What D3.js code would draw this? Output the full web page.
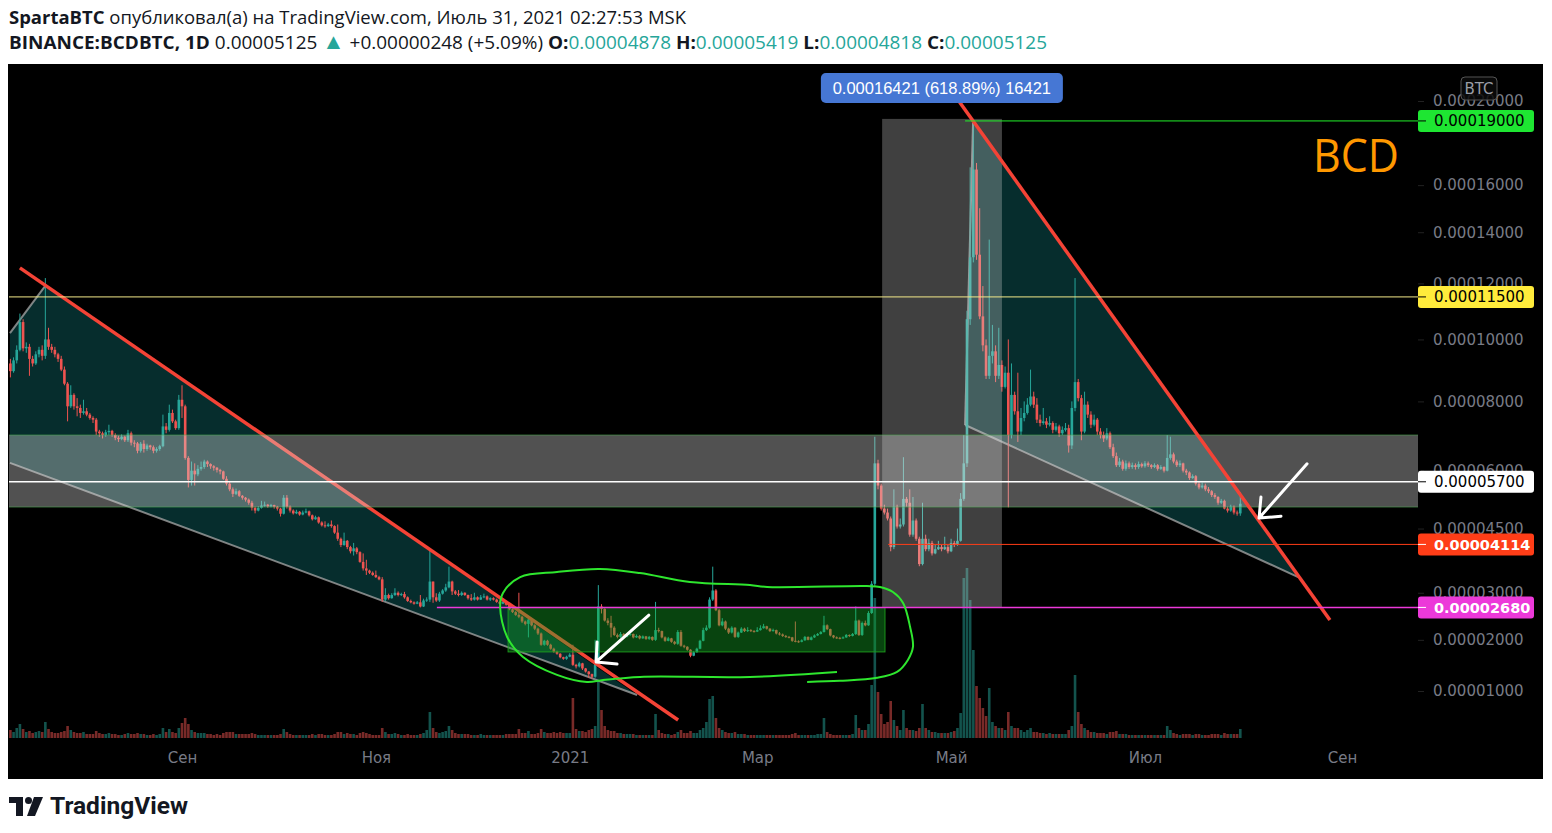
<!DOCTYPE html>
<html><head><meta charset="utf-8">
<script src="https://cdn.jsdelivr.net/npm/d3@7"></script>
<style>body{margin:0;background:#fff;overflow:hidden}</style>
</head><body><svg id="c" width="1552" height="833"></svg>
<script>
// ---------------- DATA (prices in satoshi = 1e-8 BTC) ----------------
const startDay = "2020-07-09";
const firstOpen = 9200;
const lastOpen = 4878;
const closes = [
8950,9300,9650,10600,9700,9750,9350,9200,9500,9650,
9450,10000,9750,9650,9500,9350,9000,8550,7850,8200,
7850,7800,7650,7700,7600,7500,7450,7100,7050,7000,
7080,7120,7000,6920,6880,6950,6850,7050,6780,6760,
6550,6750,6600,6700,6650,6550,6600,6680,7250,7150,
7650,7400,7200,8050,7850,6350,5750,6000,5900,6050,
6100,6250,6180,6120,6080,6020,5980,5780,5650,5500,
5380,5450,5330,5280,5230,5150,5020,4950,5020,5080,
5100,5060,5090,5050,5000,4870,5280,5050,4950,4880,
4920,4850,4900,4930,4830,4730,4780,4650,4580,4560,
4600,4560,4400,4250,4100,4200,4050,3950,4020,3930,
3700,3550,3500,3450,3400,3350,3300,2850,2950,2880,
2950,3000,2950,2970,2900,2820,2790,2760,2790,2700,
2830,2850,3250,2900,2830,2980,3050,3120,3250,3030,
2980,2950,3000,2950,2880,2850,2900,2850,2900,2920,
2850,2880,2850,2800,2760,2800,2740,2640,2580,2520,
2480,2380,2330,2420,2300,2230,2130,1900,1980,1900,
1820,1760,1720,1650,1620,1660,1700,1500,1470,1530,
1430,1370,1320,1270,1600,2700,2650,2400,2350,2250,
2100,2060,2120,2060,2100,2120,2050,2080,2030,2070,
2020,2060,2000,2200,2180,2050,1980,2030,1960,1920,
2160,1880,1860,1800,1680,1750,1820,1980,2200,2250,
2850,3050,2620,2300,2380,2230,2150,2250,2060,2150,
2230,2180,2200,2180,2170,2200,2240,2280,2230,2180,
2200,2130,2110,2080,2060,2050,1980,1970,1960,1990,
2060,2000,2050,2090,2120,2160,2300,2220,2090,2050,
2040,2030,2050,2100,2080,2120,2400,2100,2350,2300,
2560,3200,6200,5600,5000,4900,4750,4050,5050,4550,
4600,5250,5150,4350,4700,4250,3650,4250,4000,4150,
3900,4000,4050,4000,4050,3950,4150,4100,4200,5250,
6200,10700,13000,16700,13100,10800,9800,8800,9450,9600,
8800,9150,8450,8900,7000,8200,7700,7100,7500,7650,
7900,8150,7900,7450,7350,7400,7300,7350,7150,7250,
7050,7150,7200,6700,7800,8600,8100,7100,7900,7600,
7300,7450,7100,7000,6900,7050,6650,6400,6150,6250,
6050,6200,6100,6150,6100,6180,6120,6200,6150,6100,
6150,6050,6100,6000,6350,6450,6250,6150,6200,6000,
5950,5800,5850,5650,5550,5600,5500,5450,5350,5300,
5150,5200,5000,4950,5050,4900,4877,5125];
const highs = [
9350,9400,9800,10900,10700,9900,9850,9450,9600,9750,
9800,12200,10400,9850,9750,9550,9450,9100,8600,8500,
8250,8100,7900,8050,7800,7650,7550,7500,7150,7100,
7150,7300,7150,7050,6980,7020,6980,7150,7100,6850,
6800,6800,6850,6750,6720,6700,6650,6720,7600,7350,
7900,7750,7450,8200,8500,7900,6400,6250,6200,6150,
6250,6300,6280,6200,6150,6100,6050,6000,5850,5700,
5550,5520,5480,5350,5300,5260,5200,5050,5060,5200,
5180,5120,5120,5100,5070,5020,5350,5350,5080,4980,
4970,4940,4950,5000,4950,4850,4820,4800,4680,4680,
4640,4700,4580,4600,4280,4400,4220,4080,4150,4050,
3950,3900,3750,3520,3480,3500,3380,3350,3100,2980,
2990,3100,3030,3000,3020,2920,2850,2810,2820,2950,
2870,2900,3980,3250,2990,3020,3080,3200,3590,3270,
3060,3060,3030,3010,2960,2970,3000,2920,2950,2980,
2940,2900,2900,2870,2830,2830,2820,2760,2660,2600,
3000,2500,2400,2450,2430,2320,2250,2150,2000,2000,
1920,1840,1780,1730,1660,1680,1730,1900,1520,1560,
1540,1440,1380,1330,2000,3170,2750,2660,2450,2500,
2280,2130,2160,2140,2130,2150,2130,2110,2100,2090,
2080,2080,2070,2800,2250,2190,2070,2060,2040,1980,
2200,2200,1900,1870,1810,1770,1840,2000,2250,2300,
2900,3590,3080,2650,2450,2400,2250,2280,2260,2170,
2260,2250,2260,2220,2200,2260,2300,2330,2290,2240,
2230,2210,2160,2130,2100,2080,2060,2380,1990,2010,
2080,2070,2070,2110,2140,2180,2500,2320,2230,2100,
2070,2060,2070,2120,2110,2140,2700,2420,2380,2400,
2600,3260,6950,6300,5650,5100,5000,4800,5500,5100,
4750,6370,5300,5500,5300,4750,4300,5150,4350,4250,
4200,4100,4200,4100,4300,4100,4250,4200,4500,5400,
7000,11000,16800,19000,17000,15000,11900,10000,13700,10500,
9800,10400,9300,9100,10000,9200,8300,8900,7800,8000,
8100,9000,8300,8100,7600,7800,7500,7550,7400,7350,
7300,7250,7350,7300,8000,12200,8700,8200,8300,8000,
7700,7600,7500,7200,7100,7200,7100,6750,6500,6350,
6300,6280,6250,6220,6200,6250,6220,6260,6250,6180,
6200,6180,6150,6120,7000,6950,6500,6300,6280,6220,
6050,5980,5900,5880,5700,5680,5650,5560,5480,5400,
5320,5250,5230,5050,5100,5080,4950,5419];
const lows = [
8750,8900,9200,9600,9600,9550,8800,9100,9150,9400,
9300,9350,9650,9550,9400,9250,8950,8500,7400,7800,
7750,7550,7500,7600,7550,7450,7350,7000,6950,6900,
6950,7000,6950,6850,6800,6850,6800,6800,6700,6650,
6480,6500,6500,6550,6580,6480,6500,6550,6650,7050,
7100,7350,7150,7150,7500,6300,5550,5600,5600,5850,
6000,6050,6100,6050,6000,5950,5900,5750,5600,5450,
5300,5350,5300,5230,5180,5100,4950,4880,4930,5000,
5050,5020,5030,5000,4950,4800,4850,5000,4900,4850,
4860,4820,4830,4880,4800,4700,4720,4620,4550,4520,
4540,4520,4370,4200,4050,4080,4000,3900,3850,3880,
3680,3500,3400,3420,3380,3330,3280,2800,2820,2850,
2870,2930,2920,2930,2870,2800,2770,2740,2750,2680,
2690,2800,2800,2780,2800,2800,2960,3020,3100,2950,
2950,2920,2930,2930,2850,2820,2830,2830,2840,2880,
2830,2820,2830,2780,2740,2750,2720,2620,2560,2500,
2450,2350,2300,2050,2280,2200,2100,1880,1880,1880,
1800,1740,1700,1630,1600,1600,1650,1480,1430,1450,
1400,1350,1250,1230,1250,1580,2550,2380,2300,2050,
2080,2030,2040,2040,2050,2080,2030,2040,2010,2020,
2000,2000,1980,1980,2150,2030,1960,1970,1940,1900,
1900,1860,1830,1780,1650,1670,1740,1810,1970,2180,
2230,2820,2600,2280,2280,2200,2120,2130,2040,2040,
2140,2160,2160,2160,2150,2160,2190,2230,2210,2160,
2170,2110,2090,2060,2040,2030,1960,1950,1940,1950,
1980,1990,1990,2040,2080,2110,2150,2200,2070,2030,
2020,2010,2020,2040,2060,2070,2100,2080,2080,2280,
2290,2540,3150,5500,4950,4850,4700,3950,4000,4500,
4500,4550,5050,4300,4300,4200,3600,3620,3950,3950,
3850,3880,3980,3950,3980,3900,3930,4050,4080,4180,
5200,6100,10500,12800,12900,10700,9600,8700,8700,9200,
8600,8700,8300,8400,5030,6900,7600,6800,7000,7400,
7600,7850,7800,7350,7250,7300,7200,7250,7050,7100,
6950,7000,7100,6500,6600,7700,8000,6850,7050,7500,
7200,7250,7000,6900,6800,6850,6600,6350,6100,6100,
6000,6000,6050,6050,6030,6050,6080,6080,6100,6050,
6070,6000,6020,5950,5980,6300,6200,6100,6100,5950,
5880,5750,5780,5600,5500,5520,5450,5400,5300,5250,
5100,5120,4980,4900,4920,4850,4820,4818];
const volumes = [
8,6,10,14,9,6,7,5,6,7, 6,16,9,6,5,5,6,7,12,8, 6,5,5,6,4,4,4,7,5,4, 4,5,4,4,3,3,4,5,4,4,
5,4,4,3,3,4,3,4,10,6, 9,6,5,10,15,20,14,8,6,5, 5,5,4,4,3,4,3,5,6,6, 6,4,4,4,4,4,5,4,3,3,
3,3,3,3,3,4,9,6,4,3, 3,3,3,3,3,4,3,4,4,3, 3,3,4,6,6,4,5,4,4,3, 5,6,5,4,3,3,3,10,6,4,
4,5,4,3,3,4,3,3,3,4, 5,8,26,10,6,5,6,7,12,8, 5,4,4,4,4,3,3,3,4,3, 3,3,3,3,3,3,4,4,4,4,
9,5,5,7,4,4,5,9,6,5, 5,6,5,6,5,5,5,40,9,7, 7,6,8,9,12,58,28,12,8,7, 7,5,5,4,4,4,4,3,3,3,
3,3,3,24,8,5,4,4,3,4, 6,8,5,5,7,5,5,8,10,16, 39,42,20,10,8,6,5,5,6,4, 4,4,3,3,3,3,3,3,3,3,
3,3,3,3,3,3,4,5,3,3, 3,3,3,3,4,4,20,6,4,3, 3,3,3,3,3,4,23,10,8,8, 14,53,140,46,24,14,16,37,18,12,
8,28,10,8,8,7,10,34,10,8, 6,6,5,5,5,5,6,7,10,25, 160,170,138,88,52,40,30,22,50,16, 12,10,10,8,26,12,10,10,8,6,
8,10,6,6,5,5,4,5,4,4, 4,4,4,8,12,63,26,14,10,8, 6,6,5,5,5,4,6,6,7,4, 4,4,3,3,3,3,3,3,3,3,
3,3,3,3,12,8,5,4,3,4, 4,4,3,4,4,3,3,3,4,4, 4,3,5,4,4,4,4,9];
const priceTicks = [20000,16000,14000,12000,10000,8000,6000,4500,3000,2000,1000];
const monthTicks = ["2020-09-01","2020-11-01","2021-01-01","2021-03-01","2021-05-01","2021-07-01","2021-09-01"];
const monthLabels = ["Сен","Ноя","2021","Мар","Май","Июл","Сен"];
const levelValues = [19000, 11500, 5700, 4114, 2680];
const levelStartDay = [300.4, -5, -5, 276.2, 134.2];
// drawings, in [day index, price] coordinates
const trend1 = [[3.0,12590],[210.1,471]];
const trend2 = [[298.2,20054],[415.2,2410]];
const channel1 = [[-0.13,10213],[11.2,11946],[197.2,925],[-0.13,6213]];
const channel2 = [[302.9,18899],[405.2,3352],[300.4,7291]];
const bandZone = [[-5,460],[5040,7000]];
const pumpZone = [[274.3,312.0],[2680,19100]];
const rangeZone = [[156.6,275.2],[1756,2680]];
const loopPts = [[260.1,1363],[232.7,1267],[198.1,1267],[186.5,1208],[181.4,1171],[172.0,1306],[161.3,1655],[156.3,2059],[154.1,2688],[155.0,2995],[160.4,3352],[172.0,3467],[185.5,3535],[198.1,3442],[213.8,3239],[232.7,3172],[238.1,3127],[269.5,3148],[273.6,3127],[277.7,3016],[280.9,2776],[283.1,2266],[284.0,1855],[282.4,1597],[279.0,1363],[272.7,1249],[261.0,1192],[250.7,1171]];
const arrow1 = [[200.9,2515],[184.3,1557],[184.6,1955],[190.9,1517]];
const arrow2 = [[408.0,6187],[392.9,4760],[393.5,5297],[399.8,4808]];

// ---------------- SCALES ----------------
const DAY = 864e5;
const t0 = Date.parse(startDay + "T00:00:00Z");
const dayDate = i => new Date(t0 + i * DAY);
const x = d3.scaleUtc().domain([new Date("2020-09-01T00:00:00Z"), new Date("2021-09-01T00:00:00Z")]).range([182, 1342]);
const OFF = 10000; // log offset (1e-4 BTC)
const yLog = d3.scaleLog().domain([1000 + OFF, 20000 + OFF]).range([691, 101]);
const y = v => yLog(v + OFF);
const vY = d3.scaleLinear().domain([0, 170]).range([738, 568]);
const px = p => [x(dayDate(p[0])), y(p[1])];

const TEAL = "#26a69a", RED = "#ef5350";
const svg = d3.select("#c");
const fontAxis = "DejaVu Sans, Verdana, sans-serif";

svg.append("rect").attr("x", 8).attr("y", 64).attr("width", 1535).attr("height", 715).attr("fill", "#000");
svg.append("defs").append("clipPath").attr("id", "plot").append("rect")
  .attr("x", 9).attr("y", 64).attr("width", 1409).attr("height", 674);
const g = svg.append("g").attr("clip-path", "url(#plot)");

const n = closes.length;
const candles = closes.map((c, i) => ({
  d: dayDate(i), o: i === 0 ? firstOpen : (i === n - 1 ? lastOpen : closes[i - 1]), c, h: highs[i], l: lows[i], v: volumes[i]
}));

// volume
g.append("g").selectAll("rect").data(candles).join("rect")
  .attr("x", d => x(d.d) - 1.3).attr("width", 2.6)
  .attr("y", d => vY(d.v)).attr("height", d => 738 - vY(d.v))
  .attr("fill", d => d.c >= d.o ? "rgba(38,166,154,0.5)" : "rgba(239,83,80,0.5)");

// channels
const line = d3.line();
[channel1, channel2].forEach(ch => {
  g.append("path").attr("d", line(ch.map(px)) + "Z").attr("fill", "rgba(20,160,160,0.28)");
});
[[channel1[3], channel1[2]], [channel1[0], channel1[1]], [channel2[2], channel2[1]], [channel2[0], channel2[2]]].forEach(seg => {
  g.append("path").attr("d", line(seg.map(px))).attr("stroke", "rgba(170,170,170,0.75)").attr("stroke-width", 2).attr("fill", "none");
});

// candles
const cg = g.append("g");
cg.selectAll("line").data(candles).join("line")
  .attr("x1", d => x(d.d)).attr("x2", d => x(d.d))
  .attr("y1", d => y(d.h)).attr("y2", d => y(d.l))
  .attr("stroke", d => d.c >= d.o ? TEAL : RED).attr("stroke-width", 1);
cg.selectAll("rect").data(candles).join("rect")
  .attr("x", d => x(d.d) - 1.3).attr("width", 2.6)
  .attr("y", d => Math.min(y(d.o), y(d.c)))
  .attr("height", d => Math.max(1, Math.abs(y(d.o) - y(d.c))))
  .attr("fill", d => d.c >= d.o ? TEAL : RED);

// trend line 1
g.append("path").attr("d", line(trend1.map(px))).attr("stroke", "#f44336").attr("stroke-width", 3.5).attr("fill", "none");

// zones
function zone(z, fill, stroke) {
  const x0 = x(dayDate(z[0][0])), x1 = x(dayDate(z[0][1]));
  const yTop = y(z[1][1]), yBot = y(z[1][0]);
  const r = g.append("rect").attr("x", x0).attr("y", yTop).attr("width", x1 - x0).attr("height", yBot - yTop).attr("fill", fill);
  if (stroke) r.attr("stroke", stroke).attr("stroke-width", 1);
}
zone(pumpZone, "rgba(220,220,220,0.29)");
zone(bandZone, "rgba(220,220,220,0.37)", "rgba(76,175,80,0.55)");
zone(rangeZone, "rgba(20,180,40,0.38)", "rgba(30,160,30,0.9)");

// trend line 2
g.append("path").attr("d", line(trend2.map(px))).attr("stroke", "#f44336").attr("stroke-width", 3.5).attr("fill", "none");

// horizontal levels
const levelColors = ["#22f02a", "#f3e98a", "#ffffff", "#ff3d17", "#ec39d9"];
const levelWidths = [1, 1, 1.5, 1, 1.5];
levelValues.forEach((v, k) => {
  g.append("line").attr("x1", x(dayDate(levelStartDay[k]))).attr("x2", 1418)
    .attr("y1", y(v)).attr("y2", y(v)).attr("stroke", levelColors[k]).attr("stroke-width", levelWidths[k]);
});

// freehand loop
g.append("path").attr("d", d3.line().curve(d3.curveCatmullRom)(loopPts.map(px)))
  .attr("stroke", "#2ee62e").attr("stroke-width", 2).attr("fill", "none");

// arrows
[arrow1, arrow2].forEach(a => {
  const p = a.map(px);
  g.append("path").attr("d", `M${p[0]}L${p[1]}M${p[2]}L${p[1]}L${p[3]}`)
    .attr("stroke", "#fff").attr("stroke-width", 3).attr("stroke-linecap", "round").attr("stroke-linejoin", "round").attr("fill", "none");
});

// price axis
const pAxis = d3.axisRight(yLog).tickValues(priceTicks.map(t => t + OFF))
  .tickFormat(v => ((v - OFF) / 1e8).toFixed(8)).tickSize(6).tickPadding(9);
const pa = svg.append("g").attr("transform", "translate(1418,0)").call(pAxis);
pa.select(".domain").remove();
pa.selectAll("line").attr("stroke", "#222");
pa.selectAll("text").attr("fill", "#787b86").attr("font-family", fontAxis).attr("font-size", 15);

// time axis
const tAxis = d3.axisBottom(x).tickValues(monthTicks.map(s => new Date(s + "T00:00:00Z")))
  .tickFormat((d, i) => monthLabels[i]).tickSize(0).tickPadding(14);
const ta = svg.append("g").attr("transform", "translate(0,738)").call(tAxis);
ta.select(".domain").remove();
ta.selectAll("text").attr("fill", "#787b86").attr("font-family", fontAxis).attr("font-size", 15);

// level labels
const labelBg = ["#1ee632", "#ffeb3b", "#ffffff", "#ff3d17", "#ec39d9"];
const labelFg = ["#000", "#000", "#000", "#fff", "#fff"];
const labelBold = [false, false, false, true, true];
levelValues.forEach((v, k) => {
  const yy = y(v);
  svg.append("rect").attr("x", 1418).attr("y", yy - 11).attr("width", 116).attr("height", 22).attr("rx", 3).attr("fill", labelBg[k]);
  svg.append("line").attr("x1", 1418).attr("x2", 1426).attr("y1", yy).attr("y2", yy).attr("stroke", labelFg[k]).attr("stroke-width", 1);
  svg.append("text").attr("x", 1434).attr("y", yy + 5.5).text((v / 1e8).toFixed(8))
    .attr("fill", labelFg[k]).attr("font-family", fontAxis).attr("font-size", labelBold[k] ? 14.5 : 15)
    .attr("font-weight", labelBold[k] ? "bold" : "normal");
});

// BTC box
svg.append("rect").attr("x", 1461).attr("y", 77).attr("width", 36).attr("height", 23).attr("rx", 4)
  .attr("fill", "rgba(10,10,10,0.85)").attr("stroke", "#555");
svg.append("text").attr("x", 1479).attr("y", 94).attr("text-anchor", "middle").text("BTC")
  .attr("fill", "#9a9da6").attr("font-family", fontAxis).attr("font-size", 15);

// measure label
const mx = x(dayDate(293.1));
svg.append("rect").attr("x", mx - 121).attr("y", 73).attr("width", 242).attr("height", 30).attr("rx", 5).attr("fill", "#4677d4");
svg.append("text").attr("x", mx).attr("y", 94).attr("text-anchor", "middle").text("0.00016421 (618.89%) 16421")
  .attr("fill", "#fff").attr("font-family", "Liberation Sans, Arial, sans-serif").attr("font-size", 16.5);

// BCD
svg.append("text").attr("x", 1313).attr("y", 172).text("BCD").attr("fill", "#ff9800")
  .attr("font-family", "Open Sans, sans-serif").attr("font-size", 46).attr("textLength", 86).attr("lengthAdjust", "spacingAndGlyphs");

// header
const last = candles[n - 1];
const prevClose = closes[n - 2];
const fmt = v => (v / 1e8).toFixed(8);
const hf = "Open Sans, sans-serif";
const h1 = svg.append("text").attr("x", 9).attr("y", 24).attr("font-family", hf).attr("font-size", 18.5).attr("fill", "#131722")
  .attr("textLength", 677).attr("lengthAdjust", "spacingAndGlyphs");
h1.append("tspan").attr("font-weight", "bold").text("SpartaBTC");
h1.append("tspan").text(" опубликовал(а) на TradingView.com, Июль 31, 2021 02:27:53 MSK");
const chg = last.c - prevClose;
const h2 = svg.append("text").attr("x", 9).attr("y", 49).attr("font-family", hf).attr("font-size", 18.5).attr("fill", "#131722")
  .attr("textLength", 1038).attr("lengthAdjust", "spacingAndGlyphs");
h2.append("tspan").attr("font-weight", "bold").text("BINANCE:BCDBTC, 1D");
h2.append("tspan").text("  " + fmt(last.c) + " ");
h2.append("tspan").attr("fill", TEAL).attr("font-size", 22).text("▲");
h2.append("tspan").text(" +" + fmt(chg) + " (+" + (chg / prevClose * 100).toFixed(2) + "%) ");
[["O:", last.o], ["H:", last.h], ["L:", last.l], ["C:", last.c]].forEach(([k, v], i) => {
  h2.append("tspan").attr("font-weight", "bold").text((i ? " " : "") + k);
  h2.append("tspan").attr("fill", TEAL).text(fmt(v));
});

// footer logo
const lg = svg.append("g").attr("fill", "#131722");
lg.append("path").attr("d", "M9,797H23V816H16V803H9Z");
lg.append("circle").attr("cx", 28.5).attr("cy", 800.5).attr("r", 3.5);
lg.append("path").attr("d", "M34,797H43L35,816H27Z");
svg.append("text").attr("x", 50).attr("y", 814).text("TradingView").attr("fill", "#131722")
  .attr("font-family", "Roboto, sans-serif").attr("font-weight", "bold").attr("font-size", 23)
  .attr("textLength", 138).attr("lengthAdjust", "spacingAndGlyphs");
</script></body></html>
